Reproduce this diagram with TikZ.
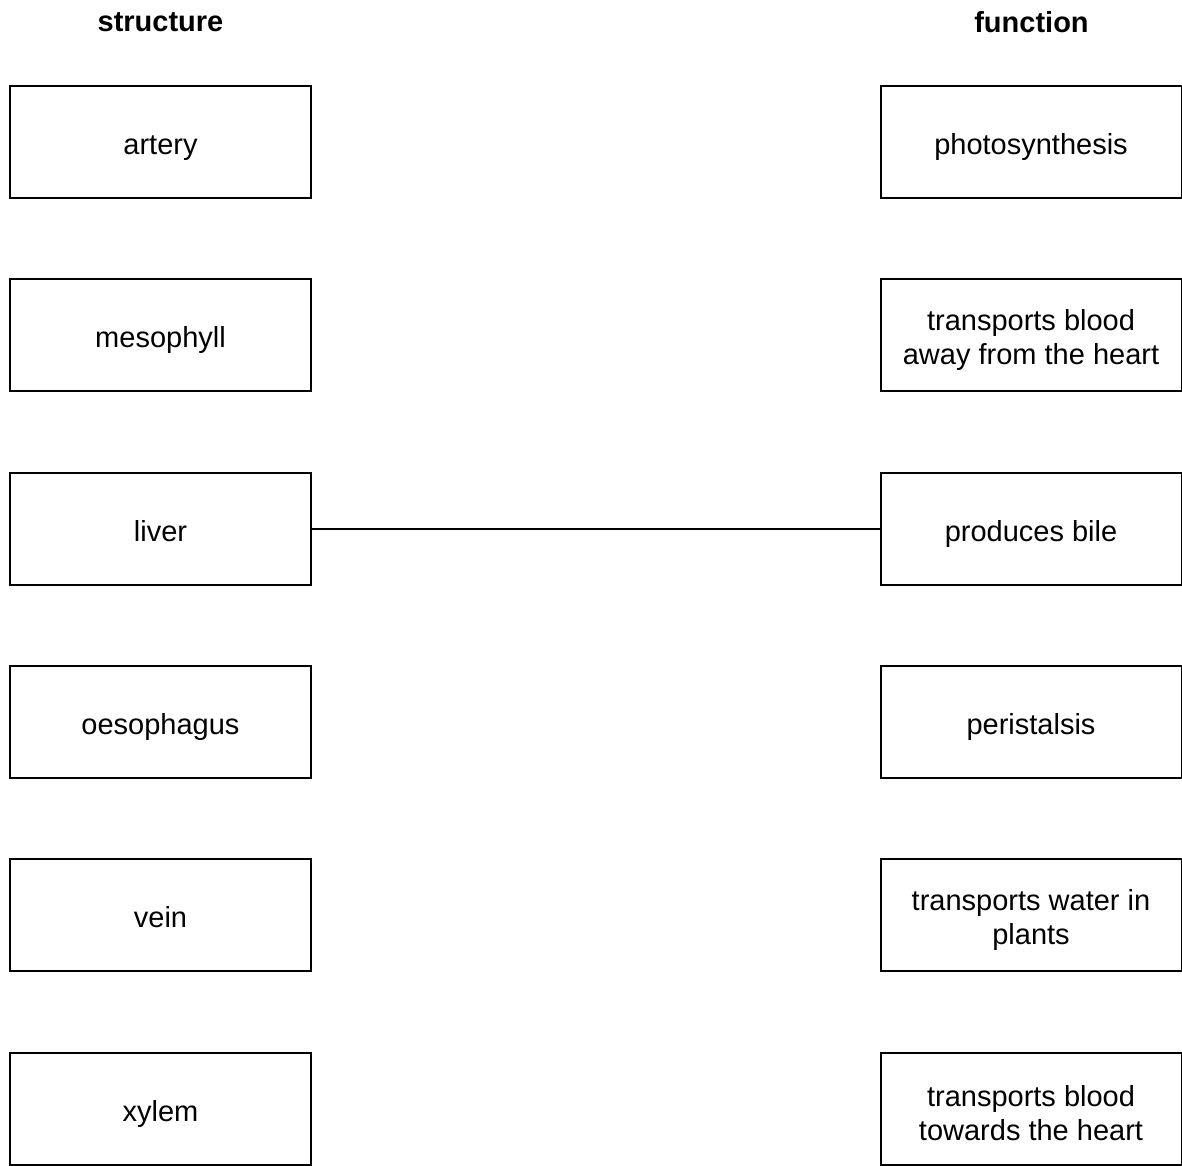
\documentclass[tikz,border=0pt]{standalone}
\usepackage{fontspec}
\setmainfont{Liberation Sans}
\begin{document}
\begin{tikzpicture}[x=1pt,y=-1pt,
  item/.style={draw=black,line width=2pt,minimum width=301pt,minimum height=112pt,inner sep=0pt},
  txt/.style={inner sep=0pt,align=center,font=\fontsize{29}{34}\selectfont},
  stxt/.style={txt,anchor=base},
  head/.style={inner sep=0pt,font=\fontsize{29}{34}\selectfont\bfseries}]
\useasboundingbox (0,0) rectangle (1182,1165);
\node[head] (hs) at (160.5,22.5) {structure};
\node[head] (hf) at (1031.5,22.5) {function};
\foreach \n/\t [count=\i from 0] in {a/artery,b/mesophyll,c/liver,d/oesophagus,e/vein,f/xylem}{
  \node[item] (L\n) at (160.5,{142+193.3*\i}) {};
  \node[stxt] (L\n-t) at ([yshift=-12.5pt]L\n.center) {\t};
}
\node[item] (Ra) at (1031,142) {};
\node[stxt] (Ra-t) at ([yshift=-12.5pt]Ra.center) {photosynthesis};
\node[item] (Rb) at (1031,335.3) {};
\node[txt] (Rb-t) at ([yshift=-5pt]Rb.center) {transports blood\\away from the heart};
\node[item] (Rc) at (1031,528.6) {};
\node[stxt] (Rc-t) at ([yshift=-12.5pt]Rc.center) {produces bile};
\node[item] (Rd) at (1031,721.9) {};
\node[stxt] (Rd-t) at ([yshift=-12.5pt]Rd.center) {peristalsis};
\node[item] (Re) at (1031,915.2) {};
\node[txt] (Re-t) at ([yshift=-5pt]Re.center) {transports water in\\plants};
\node[item] (Rf) at (1031,1108.5) {};
\node[txt] (Rf-t) at ([yshift=-5pt]Rf.center) {transports blood\\towards the heart};
\draw[line width=2pt] (Lc.east) -- (Rc.west);
\end{tikzpicture}
\end{document}
